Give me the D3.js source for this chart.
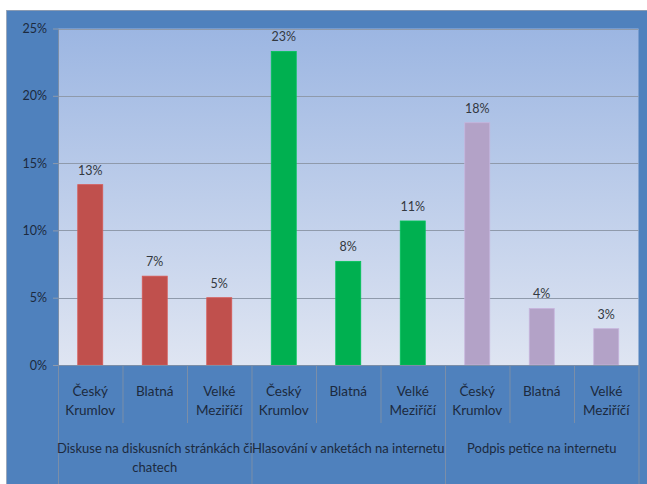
<!DOCTYPE html>
<html><head><meta charset="utf-8">
<script src="https://cdn.jsdelivr.net/npm/d3@7"></script>
<style>
html,body{margin:0;padding:0;background:#fff;}
svg{display:block;font-family:Lato,"Open Sans",sans-serif;}
</style></head>
<body><svg id="c" width="647" height="484"></svg>
<script>
const groups = ["Diskuse na diskusních stránkách či chatech", "Hlasování v anketách na internetu", "Podpis petice na internetu"];
const groupLines = [["Diskuse na diskusních stránkách či", "chatech"], ["Hlasování v anketách na internetu"], ["Podpis petice na internetu"]];
const towns = [["Český", "Krumlov"], ["Blatná"], ["Velké", "Meziříčí"]];
const values = [
  [0.134, 0.066, 0.050],
  [0.233, 0.077, 0.107],
  [0.180, 0.042, 0.027]
];
const labels = [["13%", "7%", "5%"], ["23%", "8%", "11%"], ["18%", "4%", "3%"]];
const colors = ["#c0504d", "#00b050", "#b3a2c7"];
const yTicks = [0, 0.05, 0.10, 0.15, 0.20, 0.25];

const W = 647, H = 484;
const L = 58, R = 638.5, T = 28.5, B = 365;
const svg = d3.select("#c");

// outer frame
svg.append("rect").attr("x", 6).attr("y", 10).attr("width", W - 6).attr("height", H - 10)
  .attr("fill", "#4f81bd");
svg.append("line").attr("x1", 6).attr("x2", W).attr("y1", 10.5).attr("y2", 10.5).attr("stroke", "#8a9bb3");
svg.append("line").attr("x1", 6.5).attr("x2", 6.5).attr("y1", 10).attr("y2", H).attr("stroke", "#9aa8bc");

const defs = svg.append("defs");
const grad = defs.append("linearGradient").attr("id", "bg").attr("x1", 0).attr("y1", 0).attr("x2", 0).attr("y2", 1);
grad.append("stop").attr("offset", "0%").attr("stop-color", "#9cb6e2");
grad.append("stop").attr("offset", "100%").attr("stop-color", "#dfe5f2");

const cats = [];
groups.forEach((g, gi) => towns.forEach((t, ti) => cats.push({g: gi, t: ti, v: values[gi][ti], lab: labels[gi][ti]})));

const x = d3.scaleBand().domain(d3.range(cats.length)).range([L, R]).paddingInner(0).paddingOuter(0);
const y = d3.scaleLinear().domain([0, 0.25]).range([B, T]);

svg.append("rect").attr("x", L).attr("y", T).attr("width", R - L).attr("height", B - T).attr("fill", "url(#bg)");

// gridlines
svg.append("g").selectAll("line").data(yTicks.slice(1)).join("line")
  .attr("x1", L).attr("x2", R).attr("y1", d => Math.round(y(d)) + 0.5).attr("y2", d => Math.round(y(d)) + 0.5)
  .attr("stroke", "#8f9aab").attr("stroke-width", 1);

// y axis
const yAxis = d3.axisLeft(y).tickValues(yTicks).tickFormat(d3.format(".0%")).tickSize(5).tickPadding(6);
const ya = svg.append("g").attr("transform", `translate(${L},0)`).call(yAxis);
ya.select(".domain").remove();
ya.selectAll(".tick line").attr("stroke", "#8f9aab");
ya.selectAll(".tick text").attr("fill", "#1c2a3e").attr("font-size", 12.5).attr("font-family", "Lato, sans-serif");

// bars
const bw = 25;
svg.append("g").selectAll("rect").data(cats).join("rect")
  .attr("x", (d, i) => x(i) + (x.bandwidth() - bw) / 2)
  .attr("y", d => y(d.v))
  .attr("width", bw)
  .attr("height", d => B - y(d.v))
  .attr("fill", d => colors[d.g])
  .attr("stroke", d => d3.color(colors[d.g]).brighter(0.3))
  .attr("stroke-width", 0.8);

// data labels
svg.append("g").selectAll("text").data(cats).join("text")
  .attr("x", (d, i) => x(i) + x.bandwidth() / 2)
  .attr("y", d => y(d.v) - 10)
  .attr("text-anchor", "middle")
  .attr("font-size", 12.5).attr("fill", "#333840")
  .text(d => d.lab);

// axis lines
const axisCol = "#7b8ea8";
svg.append("line").attr("x1", L + 0.5).attr("x2", L + 0.5).attr("y1", T).attr("y2", H).attr("stroke", axisCol);
svg.append("line").attr("x1", L).attr("x2", R).attr("y1", B + 0.5).attr("y2", B + 0.5).attr("stroke", axisCol);

// category separators
const seps = d3.range(1, cats.length + 1);
svg.append("g").selectAll("line").data(seps).join("line")
  .attr("x1", i => (i < cats.length ? x(i) : R) + 0.5)
  .attr("x2", i => (i < cats.length ? x(i) : R) + 0.5)
  .attr("y1", B)
  .attr("y2", i => i % 3 === 0 ? H : 423)
  .attr("stroke", axisCol);

// town labels
const tl = svg.append("g").selectAll("text").data(cats).join("text")
  .attr("x", (d, i) => x(i) + x.bandwidth() / 2)
  .attr("y", 396)
  .attr("text-anchor", "middle")
  .attr("font-size", 13.5).attr("fill", "#1c2a3e");
tl.selectAll("tspan").data(d => towns[d.t]).join("tspan")
  .attr("x", function () { return d3.select(this.parentNode).attr("x"); })
  .attr("dy", (d, i) => i === 0 ? 0 : 19)
  .text(d => d);

// group labels
const gl = svg.append("g").selectAll("text").data(groups).join("text")
  .attr("x", (d, gi) => (x(gi * 3) + (gi * 3 + 3 < cats.length ? x(gi * 3 + 3) : R)) / 2)
  .attr("y", 453)
  .attr("text-anchor", "middle")
  .attr("font-size", 13).attr("fill", "#1c2a3e");
gl.selectAll("tspan").data((d, gi) => groupLines[gi]).join("tspan")
  .attr("x", function () { return d3.select(this.parentNode).attr("x"); })
  .attr("dy", (d, i) => i === 0 ? 0 : 19)
  .text(d => d);
</script>
</body></html>
